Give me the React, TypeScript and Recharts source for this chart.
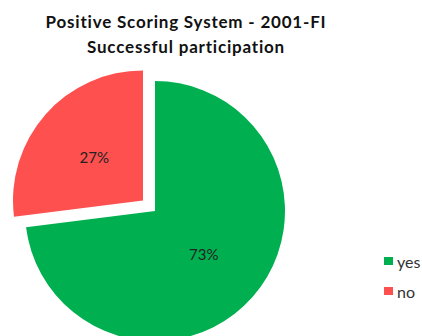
import { Cell, Legend, Pie, PieChart } from "recharts";

const labels = ["yes", "no"];
const shares = [73, 27];
const colors = ["#00b050", "#ff5050"];

const FONT = "Lato, 'Open Sans', sans-serif";
const RADIUS = 130;
const EXPLODE = 16;

const data = labels.map((name, i) => ({ name, value: shares[i] }));
const total = shares.reduce((a, b) => a + b, 0);

// where the exploded "no" slice sits: pushed out along its own middle angle
const noMid = ((shares[0] + shares[1] / 2) / total) * 2 * Math.PI;
const cx = 155;
const cy = 211;
const noCx = cx + EXPLODE * Math.sin(noMid);
const noCy = cy - EXPLODE * Math.cos(noMid);

const RAD = Math.PI / 180;

function pctLabel(props: any) {
  const { cx, cy, midAngle, outerRadius, percent, fillOpacity } = props;
  if (fillOpacity === 0) return null;
  const r = outerRadius * 0.5;
  const x = cx + r * Math.cos(-midAngle * RAD);
  const y = cy + r * Math.sin(-midAngle * RAD);
  return (
    <text
      x={x}
      y={y}
      textAnchor="middle"
      dominantBaseline="central"
      fontFamily={FONT}
      fontSize={15}
      fill="#222"
    >
      {`${Math.round(percent * 100)}%`}
    </text>
  );
}

function LegendBox() {
  return (
    <div style={{ fontFamily: FONT, fontSize: 16, color: "#333" }}>
      {labels.map((l, i) => (
        <div key={l} style={{ display: "flex", alignItems: "center", height: 30 }}>
          <span
            style={{
              display: "inline-block",
              width: 9,
              height: 8,
              background: colors[i],
              marginRight: 4,
            }}
          />
          {l}
        </div>
      ))}
    </div>
  );
}

export default function App() {
  return (
    <div
      style={{
        position: "absolute",
        left: 0,
        top: 0,
        width: 422,
        height: 336,
        background: "#fff",
        overflow: "hidden",
      }}
    >
      <div
        style={{
          position: "absolute",
          left: 0,
          top: 9,
          width: 372,
          textAlign: "center",
          fontFamily: FONT,
          fontWeight: 700,
          fontSize: 17,
          letterSpacing: 0.8,
          lineHeight: "25px",
          color: "#111",
        }}
      >
        Positive Scoring System - 2001-FI
        <br />
        Successful participation
      </div>
      <PieChart width={422} height={336} margin={{ top: 0, right: 0, bottom: 0, left: 0 }}>
        <Pie
          data={data}
          dataKey="value"
          nameKey="name"
          cx={cx}
          cy={cy}
          outerRadius={RADIUS}
          startAngle={90}
          endAngle={-270}
          stroke="none"
          label={pctLabel}
          labelLine={false}
          isAnimationActive={false}
        >
          {data.map((d, i) => (
            <Cell key={d.name} fill={colors[i]} fillOpacity={i === 0 ? 1 : 0} />
          ))}
        </Pie>
        <Pie
          data={data}
          dataKey="value"
          nameKey="name"
          cx={noCx}
          cy={noCy}
          outerRadius={RADIUS}
          startAngle={90}
          endAngle={-270}
          stroke="none"
          legendType="none"
          label={pctLabel}
          labelLine={false}
          isAnimationActive={false}
        >
          {data.map((d, i) => (
            <Cell key={d.name} fill={colors[i]} fillOpacity={i === 1 ? 1 : 0} />
          ))}
        </Pie>
        <Legend
          content={() => <LegendBox />}
          wrapperStyle={{ left: 384, top: 246, width: 40 }}
        />
      </PieChart>
    </div>
  );
}
